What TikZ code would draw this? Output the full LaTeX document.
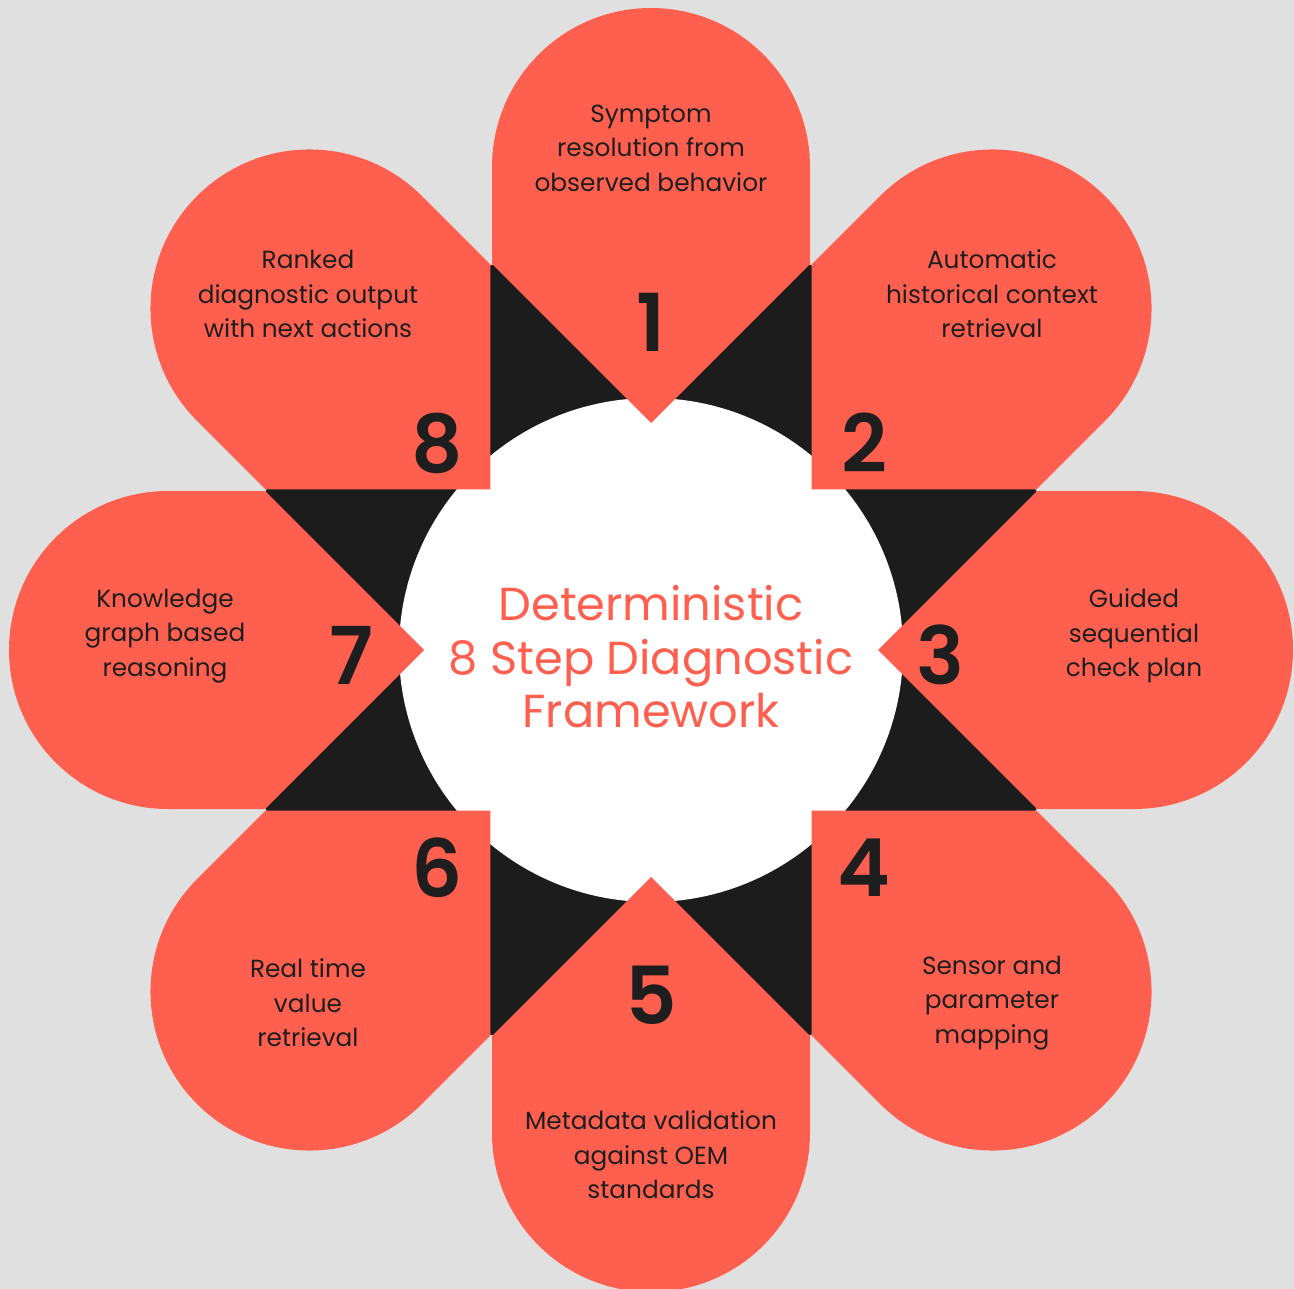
\documentclass[tikz,border=0pt]{standalone}
\usepackage{fontspec}
\usetikzlibrary{calc}
\setmainfont{Poppins}
\newfontfamily\numfont{Poppins SemiBold}
\definecolor{bg}{HTML}{E0E0E0}
\definecolor{petal}{HTML}{FF5F4F}
\definecolor{dark}{HTML}{1C1C1C}
\definecolor{ink}{HTML}{1E1E1E}
\begin{document}
\begin{tikzpicture}[x=1pt,y=-1pt,
  steptext/.style={align=center,text=ink,font=\fontsize{24.8}{34.5}\selectfont,inner sep=0pt},
  stepnum/.style={text=ink,font=\numfont\fontsize{80}{80}\selectfont,inner sep=0pt},
  titletext/.style={align=center,text=petal,font=\fontsize{46.3}{53.5}\selectfont,inner sep=0pt}]
\fill[bg] (0,0) rectangle (1294,1289);
\useasboundingbox (0,0) rectangle (1294,1289);
\coordinate (c) at (651,650);
% black octagon behind
\fill[dark] ($(c)+(22.5:417)$) \foreach \a in {67.5,112.5,...,337.5}{ -- ($(c)+(\a:417)$)} -- cycle;
% white centre
\fill[white] (c) circle[radius=252];
% petals
\foreach \k in {0,...,7}{
  \begin{scope}[shift={(c)},rotate=\k*45]
    \fill[petal] (0,-227) -- (159,-386) -- (159,-483) arc[start angle=0,end angle=-180,radius=159] -- (-159,-386) -- cycle;
  \end{scope}
}
% step texts
\node[steptext] (t1) at (651,148) {Symptom\\resolution from\\observed behavior};
\node[steptext] (t2) at (992,294) {Automatic\\historical context\\retrieval};
\node[steptext] (t3) at (1134,636) {Guided\\sequential\\check plan};
\node[steptext] (t4) at (992,1003) {Sensor and\\parameter\\mapping};
\node[steptext] (t5) at (651,1155) {Metadata validation\\against OEM\\standards};
\node[steptext] (t6) at (308,1003) {Real time\\value\\retrieval};
\node[steptext] (t7) at (165,636) {Knowledge\\graph based\\reasoning};
\node[steptext] (t8) at (308,294) {Ranked\\diagnostic output\\with next actions};
% numbers
\node[stepnum] (n1) at (651,322) {1};
\node[stepnum] (n2) at (864,443) {2};
\node[stepnum] (n3) at (940,655) {3};
\node[stepnum] (n4) at (864,868) {4};
\node[stepnum] (n5) at (651,995) {5};
\node[stepnum] (n6) at (437,868) {6};
\node[stepnum] (n7) at (351,655) {7};
\node[stepnum] (n8) at (437,443) {8};
% title
\node[titletext] (title) at (651,657) {Deterministic\\8 Step Diagnostic\\Framework};
\end{tikzpicture}
\end{document}
